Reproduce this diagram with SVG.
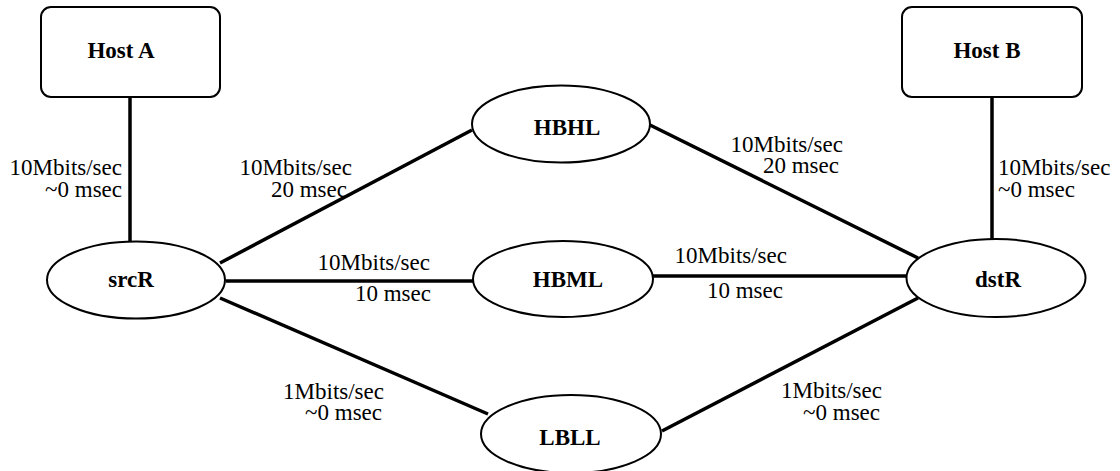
<svg xmlns="http://www.w3.org/2000/svg" width="1120" height="471" viewBox="0 0 1120 471">
  <style>
    .box { fill: #fff; stroke: #000; stroke-width: 2; }
    .node { fill: #fff; stroke: #000; stroke-width: 2; }
    .name { font-family: "Liberation Serif", "DejaVu Serif", "Times New Roman", serif; font-size: 23px; font-weight: bold; text-anchor: middle; fill: #000; }
    .link { stroke: #000; stroke-width: 3.5; fill: none; stroke-linecap: butt; }
    .lbl { font-family: "Liberation Serif", "DejaVu Serif", "Times New Roman", serif; font-size: 23px; fill: #000; }
    .end { text-anchor: end; }
  </style>
  <rect width="1120" height="471" fill="#fff"/>

  <!-- links between hosts and routers -->
  <g id="connectors">
    <line class="link" x1="130" y1="97" x2="130" y2="242"/>
    <line class="link" x1="992" y1="97" x2="992" y2="240"/>
    <line class="link" x1="220" y1="263" x2="472" y2="130"/>
    <line class="link" x1="226" y1="281" x2="473" y2="281"/>
    <line class="link" x1="220" y1="298" x2="488" y2="414"/>
    <line class="link" x1="650" y1="125" x2="918" y2="258"/>
    <line class="link" x1="653" y1="276" x2="906" y2="276"/>
    <line class="link" x1="662" y1="431" x2="918" y2="298"/>
  </g>

  <!-- link bandwidth / delay labels -->
  <g id="link-labels">
    <text class="lbl end" x="122" y="175">10Mbits/sec</text>
    <text class="lbl end" x="122" y="197">~0 msec</text>

    <text class="lbl end" x="352" y="175">10Mbits/sec</text>
    <text class="lbl end" x="347" y="197">20 msec</text>

    <text class="lbl end" x="430" y="270">10Mbits/sec</text>
    <text class="lbl end" x="431" y="301">10 msec</text>

    <text class="lbl end" x="384" y="399">1Mbits/sec</text>
    <text class="lbl end" x="382" y="420">~0 msec</text>

    <text class="lbl end" x="843" y="152">10Mbits/sec</text>
    <text class="lbl end" x="839" y="173">20 msec</text>

    <text class="lbl end" x="787" y="263">10Mbits/sec</text>
    <text class="lbl end" x="783" y="298">10 msec</text>

    <text class="lbl end" x="882" y="398">1Mbits/sec</text>
    <text class="lbl end" x="880" y="420">~0 msec</text>

    <text class="lbl" x="998" y="175">10Mbits/sec</text>
    <text class="lbl" x="998" y="197">~0 msec</text>
  </g>

  <g id="hostA">
    <rect class="box" x="41" y="7" width="179" height="90" rx="10" ry="10"/>
    <text class="name" x="121" y="58">Host A</text>
  </g>

  <g id="hostB">
    <rect class="box" x="902" y="7" width="180" height="90" rx="10" ry="10"/>
    <text class="name" x="987" y="58">Host B</text>
  </g>

  <g id="srcR">
    <ellipse class="node" cx="136" cy="280" rx="89" ry="38.5"/>
    <text class="name" x="131" y="287">srcR</text>
  </g>

  <g id="HBHL">
    <ellipse class="node" cx="561" cy="124" rx="89" ry="38.5"/>
    <text class="name" x="567" y="135">HBHL</text>
  </g>

  <g id="HBML">
    <ellipse class="node" cx="563" cy="279" rx="90" ry="38"/>
    <text class="name" x="568" y="287">HBML</text>
  </g>

  <g id="LBLL">
    <ellipse class="node" cx="571" cy="434" rx="90" ry="39"/>
    <text class="name" x="570" y="445">LBLL</text>
  </g>

  <g id="dstR">
    <ellipse class="node" cx="996" cy="278" rx="89.5" ry="39"/>
    <text class="name" x="998" y="287">dstR</text>
  </g>
</svg>
